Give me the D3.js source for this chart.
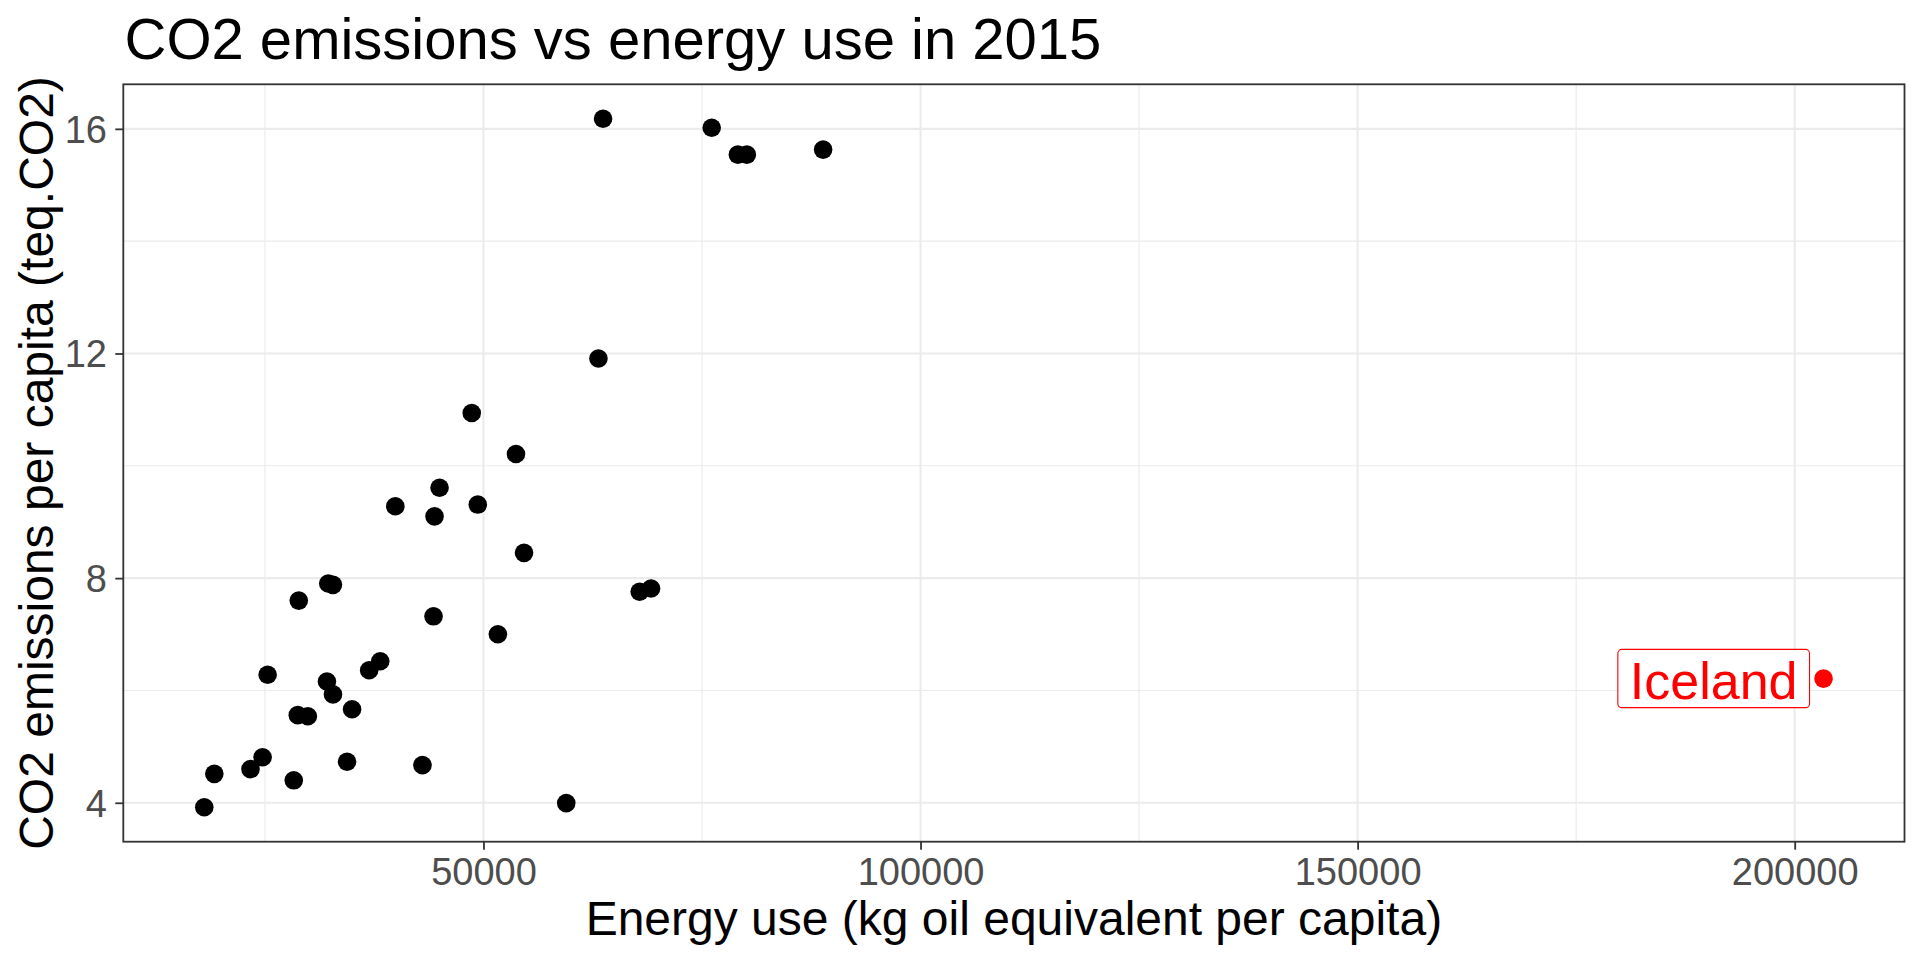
<!DOCTYPE html>
<html><head><meta charset="utf-8">
<script src="https://cdn.jsdelivr.net/npm/d3@7/dist/d3.min.js"></script>
<style>
body{margin:0;background:#fff}
svg{display:block}
text{font-family:"Liberation Sans",Arial,Helvetica,sans-serif}
</style>
</head><body>
<svg id="chart" width="1920" height="960"></svg>
<script>
// ---- data (energy use kg oil eq. per capita, CO2 t per capita), 2015 ----
const energyUse = [63682, 76108, 79101, 80128, 88856,
  63152, 48658, 53719, 44977, 39916, 49348, 44402, 54640,
  32247, 32784, 28873, 44287, 51649, 67868, 69172,
  25307, 36925, 38190, 32093, 32784, 28758, 29908, 34969,
  24732, 23351, 19210, 28298, 34394, 43021, 18060, 59471];
const co2PerCapita = [16.18, 16.02, 15.54, 15.54, 15.63,
  11.91, 10.94, 10.21, 9.61, 9.28, 9.31, 9.10, 8.45,
  7.905, 7.88, 7.60, 7.32, 7.00, 7.757, 7.816,
  6.28, 6.36, 6.52, 6.16, 5.93, 5.56, 5.54, 5.665,
  4.81, 4.60, 4.515, 4.40, 4.73, 4.67, 3.92, 3.994];
const highlightName = ["Iceland"];
const highlightEnergy = [203300];
const highlightCo2 = [6.21];
const xTickValues = [50000, 100000, 150000, 200000];
const xMinorValues = [25000, 75000, 125000, 175000];
const yTickValues = [4, 8, 12, 16];
const yMinorValues = [6, 10, 14];
const titleText = "CO2 emissions vs energy use in 2015";
const xTitleText = "Energy use (kg oil equivalent per capita)";
const yTitleText = "CO2 emissions per capita (teq.CO2)";

// ---- layout ----
const panel = {left: 123.3, right: 1904.5, top: 84.3, bottom: 841.7};
const svg = d3.select("#chart");

const allX = energyUse.concat(highlightEnergy);
const allY = co2PerCapita.concat(highlightCo2);
function expand(ext) { const r = ext[1] - ext[0]; return [ext[0] - 0.05 * r, ext[1] + 0.05 * r]; }
const x = d3.scaleLinear().domain(expand(d3.extent(allX))).range([panel.left, panel.right]);
const y = d3.scaleLinear().domain(expand(d3.extent(allY))).range([panel.bottom, panel.top]);

svg.append("rect").attr("width", 1920).attr("height", 960).attr("fill", "#fff");

// grid
const grid = svg.append("g");
grid.selectAll(".xm").data(xMinorValues.filter(v => x(v) > panel.left && x(v) < panel.right)).enter()
  .append("line").attr("x1", d => x(d)).attr("x2", d => x(d)).attr("y1", panel.top).attr("y2", panel.bottom)
  .attr("stroke", "#EBEBEB").attr("stroke-width", 1.1);
grid.selectAll(".ym").data(yMinorValues).enter()
  .append("line").attr("y1", d => y(d)).attr("y2", d => y(d)).attr("x1", panel.left).attr("x2", panel.right)
  .attr("stroke", "#EBEBEB").attr("stroke-width", 1.1);
grid.selectAll(".xM").data(xTickValues).enter()
  .append("line").attr("x1", d => x(d)).attr("x2", d => x(d)).attr("y1", panel.top).attr("y2", panel.bottom)
  .attr("stroke", "#EBEBEB").attr("stroke-width", 2.1);
grid.selectAll(".yM").data(yTickValues).enter()
  .append("line").attr("y1", d => y(d)).attr("y2", d => y(d)).attr("x1", panel.left).attr("x2", panel.right)
  .attr("stroke", "#EBEBEB").attr("stroke-width", 2.1);

// points
svg.append("g").selectAll("circle").data(energyUse.map((e, i) => [e, co2PerCapita[i]])).enter()
  .append("circle").attr("cx", d => x(d[0])).attr("cy", d => y(d[1])).attr("r", 9.3).attr("fill", "#000");

// highlight
const hl = svg.append("g");
highlightName.forEach((name, i) => {
  const px = x(highlightEnergy[i]), py = y(highlightCo2[i]);
  hl.append("circle").attr("cx", px).attr("cy", py).attr("r", 9.3).attr("fill", "#FF0000");
  const g = hl.append("g");
  const rect = g.append("rect");
  const t = g.append("text").attr("x", px - 26).attr("y", py + 20.7).attr("text-anchor", "end")
    .attr("font-size", 52).attr("fill", "#FF0000").text(name);
  const bb = t.node().getBBox();
  rect.attr("x", bb.x - 12).attr("width", bb.width + 24).attr("y", py - 29.3).attr("height", 58.3)
    .attr("rx", 4).attr("ry", 4).attr("fill", "#fff").attr("stroke", "#FF0000").attr("stroke-width", 1.1);
});

// panel border
svg.append("rect").attr("x", panel.left).attr("y", panel.top)
  .attr("width", panel.right - panel.left).attr("height", panel.bottom - panel.top)
  .attr("fill", "none").attr("stroke", "#333333").attr("stroke-width", 1.8);

// axes
const xAxis = svg.append("g").attr("transform", `translate(0,${panel.bottom})`)
  .call(d3.axisBottom(x).tickValues(xTickValues).tickFormat(d3.format("d")).tickSize(8).tickPadding(8.3));
const yAxis = svg.append("g").attr("transform", `translate(${panel.left},0)`)
  .call(d3.axisLeft(y).tickValues(yTickValues).tickFormat(d3.format("d")).tickSize(8).tickPadding(8.3));
[xAxis, yAxis].forEach(a => {
  a.select(".domain").remove();
  a.selectAll(".tick line").attr("stroke", "#333333").attr("stroke-width", 1.8);
  a.selectAll(".tick text").attr("fill", "#4D4D4D").attr("font-size", 38)
    .attr("font-family", '"Liberation Sans",Arial,Helvetica,sans-serif');
});
yAxis.selectAll(".tick text").attr("dy", "0.35em");

// titles
svg.append("text").attr("x", 124.5).attr("y", 59.3).attr("font-size", 58).attr("fill", "#000").text(titleText);
svg.append("text").attr("x", (panel.left + panel.right) / 2).attr("y", 935).attr("text-anchor", "middle")
  .attr("font-size", 48).attr("fill", "#000").text(xTitleText);
svg.append("text").attr("transform", `translate(53,${(panel.top + panel.bottom) / 2}) rotate(-90)`)
  .attr("text-anchor", "middle").attr("font-size", 48).attr("fill", "#000").text(yTitleText);
</script>
</body></html>
